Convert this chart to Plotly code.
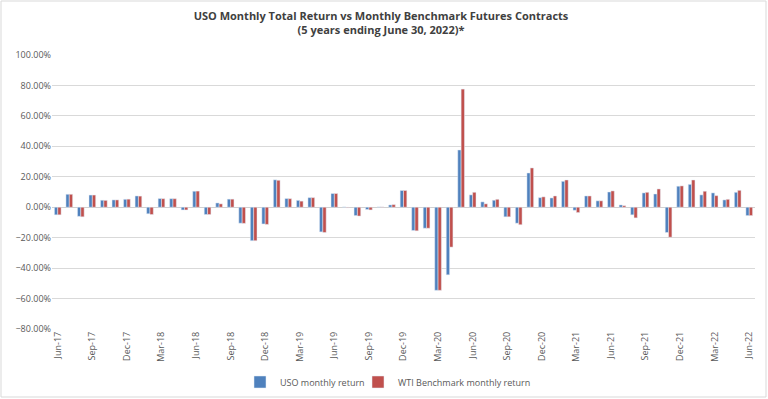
import plotly.graph_objects as go

months = ["Jun-17","Jul-17","Aug-17","Sep-17","Oct-17","Nov-17","Dec-17",
          "Jan-18","Feb-18","Mar-18","Apr-18","May-18","Jun-18","Jul-18","Aug-18","Sep-18","Oct-18","Nov-18","Dec-18",
          "Jan-19","Feb-19","Mar-19","Apr-19","May-19","Jun-19","Jul-19","Aug-19","Sep-19","Oct-19","Nov-19","Dec-19",
          "Jan-20","Feb-20","Mar-20","Apr-20","May-20","Jun-20","Jul-20","Aug-20","Sep-20","Oct-20","Nov-20","Dec-20",
          "Jan-21","Feb-21","Mar-21","Apr-21","May-21","Jun-21","Jul-21","Aug-21","Sep-21","Oct-21","Nov-21","Dec-21",
          "Jan-22","Feb-22","Mar-22","Apr-22","May-22","Jun-22"]

uso = [-5.0, 8.5, -6.0, 8.0, 4.6, 4.8, 5.2,
       7.4, -4.3, 5.7, 5.6, -1.8, 10.5, -4.8, 2.8, 5.3, -10.5, -22.0, -11.0,
       18.0, 5.7, 4.5, 6.3, -16.2, 9.0, 0.2, -5.5, -1.5, 0.2, 1.5, 11.0,
       -15.3, -13.8, -54.6, -44.4, 37.6, 8.1, 3.5, 4.6, -6.3, -10.5, 22.5, 6.3,
       6.1, 17.0, -2.0, 7.4, 4.2, 10.0, 1.5, -5.0, 9.4, 8.7, -16.6, 13.8,
       15.0, 8.1, 9.4, 4.8, 9.8, -5.5]

wti = [-5.0, 8.5, -6.3, 8.0, 4.5, 4.8, 5.3,
       7.3, -4.8, 5.6, 5.6, -1.8, 10.6, -4.8, 2.2, 5.3, -10.6, -22.0, -11.3,
       17.7, 5.6, 4.0, 6.3, -16.6, 9.0, -0.3, -5.8, -1.8, 0.2, 1.7, 11.0,
       -15.5, -13.8, -54.6, -26.2, 77.6, 9.8, 2.2, 5.2, -6.3, -11.5, 25.8, 6.8,
       7.4, 17.9, -3.5, 7.4, 4.2, 10.7, 1.0, -7.0, 9.8, 12.0, -19.7, 14.0,
       17.9, 10.5, 7.6, 5.2, 11.1, -5.5]

tick_labels = months[::3]

fig = go.Figure()
fig.add_trace(go.Bar(x=months, y=uso, name="USO monthly return", marker_color="#4F81BD",
                     legend="legend"))
fig.add_trace(go.Bar(x=months, y=wti, name="WTI Benchmark monthly return", marker_color="#C0504D",
                     legend="legend2"))

font_fam = "Open Sans"
leg_common = dict(orientation="h", xref="container", yref="container",
                  xanchor="left", y=1-382/399, yanchor="middle",
                  bgcolor="rgba(0,0,0,0)",
                  font=dict(size=9, color="#595959"), itemwidth=30)
fig.update_layout(
    width=768, height=399,
    margin=dict(l=52, r=13, t=55, b=70, autoexpand=False),
    paper_bgcolor="white", plot_bgcolor="white",
    barmode="group", bargap=0.42, bargroupgap=0.0,
    title=dict(text="<b>USO Monthly Total Return vs Monthly Benchmark Futures Contracts</b><br><b>(5 years ending June 30, 2022)*</b>",
               x=381/768, xanchor="center", xref="container", y=1-20/399, yanchor="top",
               font=dict(family=font_fam, size=11, color="#404040")),
    font=dict(family=font_fam, color="#595959"),
    showlegend=True,
    legend=dict(x=240/768, **leg_common),
    legend2=dict(x=358/768, **leg_common),
    xaxis=dict(type="category", tickmode="array", tickvals=tick_labels, ticktext=tick_labels,
               tickangle=-90, tickfont=dict(size=9, color="#595959"), showgrid=False,
               showline=False, ticks="", range=[-0.5, 60.5], automargin=False),
    yaxis=dict(range=[-80, 100], dtick=20, tickformat=".2f", ticksuffix="%",
               tickfont=dict(size=9, color="#595959"), showgrid=True, gridcolor="#D9D9D9",
               gridwidth=1, zeroline=True, zerolinecolor="#D0D0D0", zerolinewidth=1,
               showline=False, ticks="", automargin=False),
    shapes=[dict(type="rect", xref="paper", yref="paper",
                 x0=(1-52)/703, x1=(766-52)/703, y0=(329-397)/274, y1=(329-1)/274,
                 line=dict(color="#D9D9D9", width=1), fillcolor="rgba(0,0,0,0)", layer="below")],
)

fig.write_html("out.html", config={"displayModeBar": False},
               post_script="document.body.style.margin='0';document.body.style.overflow='hidden';")
